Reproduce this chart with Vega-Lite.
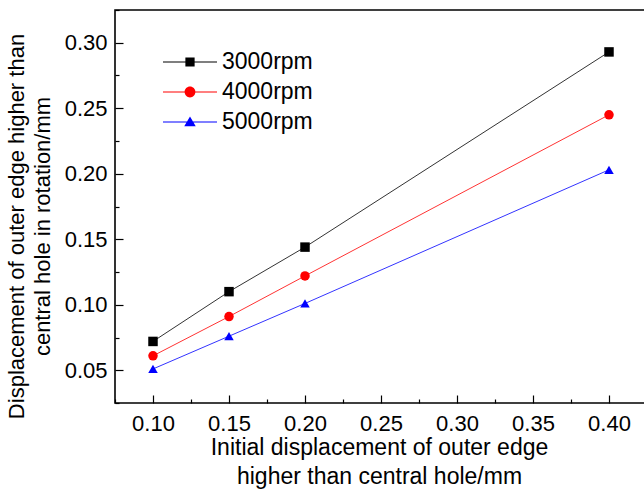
{
  "$schema": "https://vega.github.io/schema/vega-lite/v6.json",
  "width": 532,
  "height": 393,
  "autosize": "none",
  "padding": {"left": 115, "top": 10, "right": 0, "bottom": 86},
  "background": "white",
  "config": {
    "font": "Liberation Sans",
    "view": {"stroke": "#000000", "strokeWidth": 1.6},
    "axis": {
      "grid": false,
      "domain": false,
      "tickColor": "#000000",
      "tickWidth": 1.2,
      "labelColor": "#000000",
      "titleColor": "#000000",
      "labelFont": "Liberation Sans",
      "titleFont": "Liberation Sans",
      "labelFontSize": 22,
      "titleFontSize": 22,
      "titleFontWeight": "normal",
      "labelOverlap": false,
      "labelFlush": false
    }
  },
  "data": {
    "values": [
      {"x": 0.10, "y": 0.072, "speed": "3000rpm"},
      {"x": 0.15, "y": 0.110, "speed": "3000rpm"},
      {"x": 0.20, "y": 0.144, "speed": "3000rpm"},
      {"x": 0.40, "y": 0.293, "speed": "3000rpm"},
      {"x": 0.10, "y": 0.061, "speed": "4000rpm"},
      {"x": 0.15, "y": 0.091, "speed": "4000rpm"},
      {"x": 0.20, "y": 0.122, "speed": "4000rpm"},
      {"x": 0.40, "y": 0.245, "speed": "4000rpm"},
      {"x": 0.10, "y": 0.051, "speed": "5000rpm"},
      {"x": 0.15, "y": 0.076, "speed": "5000rpm"},
      {"x": 0.20, "y": 0.101, "speed": "5000rpm"},
      {"x": 0.40, "y": 0.203, "speed": "5000rpm"}
    ]
  },
  "resolve": {
    "axis": {"x": "independent", "y": "independent"},
    "scale": {"color": "independent", "shape": "independent"}
  },
  "layer": [
    {
      "mark": {"type": "line", "strokeWidth": 1, "opacity": 0.8},
      "encoding": {
        "x": {
          "field": "x",
          "type": "quantitative",
          "scale": {"domain": [0.075, 0.425], "nice": false, "zero": false},
          "axis": {
            "orient": "bottom",
            "values": [0.1, 0.15, 0.2, 0.25, 0.3, 0.35, 0.4],
            "offset": -8,
            "tickSize": 8,
            "labelPadding": 10,
            "format": ".2f",
            "title": ["Initial displacement of outer edge", "higher than central hole/mm"],
            "titleFontSize": 23,
            "titleLineHeight": 29,
            "titleX": 264,
            "titleY": 41,
            "titleBaseline": "top"
          }
        },
        "y": {
          "field": "y",
          "type": "quantitative",
          "scale": {"domain": [0.025, 0.325], "nice": false, "zero": false},
          "axis": {
            "orient": "left",
            "values": [0.05, 0.1, 0.15, 0.2, 0.25, 0.3],
            "offset": -8,
            "tickSize": 8,
            "labelPadding": 8,
            "format": ".2f",
            "title": ["Displacement of outer edge higher than", "central hole in rotation/mm"],
            "titleLineHeight": 26,
            "titleX": -95,
            "titleY": 216,
            "titleBaseline": "bottom"
          }
        },
        "color": {
          "field": "speed",
          "type": "nominal",
          "scale": {"domain": ["3000rpm", "4000rpm", "5000rpm"], "range": ["#000000", "#ff0000", "#0000ff"]},
          "legend": null
        }
      }
    },
    {
      "mark": {"type": "point", "filled": true, "opacity": 1, "size": 90},
      "encoding": {
        "x": {
          "field": "x",
          "type": "quantitative",
          "axis": {
            "orient": "bottom",
            "values": [0.075, 0.125, 0.175, 0.225, 0.275, 0.325, 0.375, 0.425],
            "offset": -4,
            "tickSize": 4,
            "labels": false,
            "title": null
          }
        },
        "y": {
          "field": "y",
          "type": "quantitative",
          "axis": {
            "orient": "left",
            "values": [0.025, 0.075, 0.125, 0.175, 0.225, 0.275, 0.325],
            "offset": -4,
            "tickSize": 4,
            "labels": false,
            "title": null
          }
        },
        "color": {
          "field": "speed",
          "type": "nominal",
          "scale": {"domain": ["3000rpm", "4000rpm", "5000rpm"], "range": ["#000000", "#ff0000", "#0000ff"]},
          "legend": null
        },
        "shape": {
          "field": "speed",
          "type": "nominal",
          "scale": {"domain": ["3000rpm", "4000rpm", "5000rpm"], "range": ["square", "circle", "triangle-up"]},
          "legend": null
        }
      }
    },
    {
      "mark": {"type": "point", "filled": true, "opacity": 0},
      "encoding": {
        "x": {"field": "x", "type": "quantitative", "axis": null},
        "y": {"field": "y", "type": "quantitative", "axis": null},
        "color": {
          "field": "speed",
          "type": "nominal",
          "scale": {"domain": ["3000rpm", "4000rpm", "5000rpm"], "range": ["#000000", "#ff0000", "#0000ff"]},
          "legend": {
            "orient": "none",
            "legendX": 61,
            "legendY": 38,
            "title": null,
            "padding": 0,
            "labelFont": "Liberation Sans",
            "labelFontSize": 23,
            "labelColor": "#000000",
            "symbolSize": 784,
            "symbolOpacity": 1,
            "symbolStrokeWidth": 0,
            "labelOffset": 18,
            "rowPadding": 4
          }
        },
        "shape": {
          "field": "speed",
          "type": "nominal",
          "scale": {
            "domain": ["3000rpm", "4000rpm", "5000rpm"],
            "range": [
              "M-1.93,-0.04H1.93V0.04H-1.93ZM-0.33,-0.33H0.33V0.33H-0.33Z",
              "M-1.93,-0.04H1.93V0.04H-1.93ZM-0.385,0A0.385,0.385 0 1,1 0.385,0A0.385,0.385 0 1,1 -0.385,0Z",
              "M-1.93,-0.04H1.93V0.04H-1.93ZM0,-0.39L0.41,0.31H-0.41Z"
            ]
          },
          "legend": {
            "orient": "none",
            "legendX": 61,
            "legendY": 38,
            "title": null,
            "padding": 0,
            "labelFont": "Liberation Sans",
            "labelFontSize": 23,
            "labelColor": "#000000",
            "symbolSize": 784,
            "symbolOpacity": 1,
            "symbolStrokeWidth": 0,
            "labelOffset": 18,
            "rowPadding": 4
          }
        }
      }
    }
  ]
}
